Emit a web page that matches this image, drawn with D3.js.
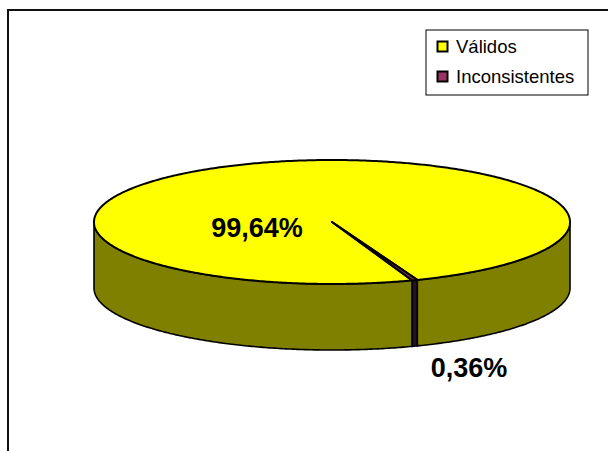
<!DOCTYPE html>
<html>
<head>
<meta charset="utf-8">
<script src="https://cdn.jsdelivr.net/npm/d3@7"></script>
<style>
  body { margin: 0; background: #fff; }
  text { font-family: "Liberation Sans", Arial, sans-serif; }
</style>
</head>
<body>
<script>
// data
var categories = ["Válidos", "Inconsistentes"];
var values = [99.64, 0.36];
var labels = ["99,64%", "0,36%"];
var topColors = ["#ffff00", "#993366"];
var sideColors = ["#808000", "#2a0f1e"];

var width = 608, height = 451;

var svg = d3.select("body").append("svg")
    .attr("width", width)
    .attr("height", height);

// chart frame (cut off at right / bottom like the source)
svg.append("rect")
    .attr("x", 8).attr("y", 10)
    .attr("width", 700).attr("height", 500)
    .attr("fill", "none")
    .attr("stroke", "#111")
    .attr("stroke-width", 2);

// 3d pie geometry
var cx = 332, cy = 222, rx = 238, ry = 62, depth = 66;

var startA = 160.3 * Math.PI / 180;
var pie = d3.pie().sort(null)
    .startAngle(startA)
    .endAngle(startA + 2 * Math.PI);
var arcs = pie(values);

// a measured clockwise from 12 o'clock
function rim(a, dy) {
  return [cx + rx * Math.sin(a), cy - ry * Math.cos(a) + (dy || 0)];
}
function rimPts(a0, a1, dy) {
  var n = Math.max(2, Math.ceil(Math.abs(a1 - a0) / 0.01));
  return d3.range(n + 1).map(function(i) { return rim(a0 + (a1 - a0) * i / n, dy); });
}

var line = d3.line();

// side walls (front half only)
var walls = [];
arcs.forEach(function(d, i) {
  for (var k = -1; k <= 2; k++) {
    var lo = Math.max(d.startAngle, Math.PI / 2 + 2 * Math.PI * k);
    var hi = Math.min(d.endAngle, 3 * Math.PI / 2 + 2 * Math.PI * k);
    if (hi > lo) walls.push({ i: i, lo: lo, hi: hi });
  }
});

svg.append("g").selectAll("path")
  .data(walls)
  .enter().append("path")
    .attr("d", function(w) {
      var pts = rimPts(w.lo, w.hi, 0).concat(rimPts(w.hi, w.lo, depth));
      return line(pts) + "Z";
    })
    .attr("fill", function(w) { return sideColors[w.i]; })
    .attr("stroke", "#000")
    .attr("stroke-width", 1.6)
    .attr("stroke-linejoin", "round");

// top faces
svg.append("g").selectAll("path")
  .data(arcs)
  .enter().append("path")
    .attr("d", function(d) {
      return line([[cx, cy]].concat(rimPts(d.startAngle, d.endAngle, 0))) + "Z";
    })
    .attr("fill", function(d, i) { return topColors[i]; })
    .attr("stroke", "#000")
    .attr("stroke-width", 2)
    .attr("stroke-linejoin", "round");

// data labels
var labelPos = [[257, 237], [469, 377]];
svg.append("g").selectAll("text")
  .data(labels)
  .enter().append("text")
    .attr("x", function(d, i) { return labelPos[i][0]; })
    .attr("y", function(d, i) { return labelPos[i][1]; })
    .attr("text-anchor", "middle")
    .attr("font-size", 27)
    .attr("font-weight", "bold")
    .attr("fill", "#000")
    .text(function(d) { return d; });

// legend
var legend = svg.append("g").attr("transform", "translate(426,30)");
legend.append("rect")
    .attr("width", 162).attr("height", 65)
    .attr("fill", "#fff")
    .attr("stroke", "#000")
    .attr("stroke-width", 1);

var item = legend.selectAll(".item")
  .data(categories)
  .enter().append("g")
    .attr("class", "item")
    .attr("transform", function(d, i) { return "translate(0," + (i * 30) + ")"; });

item.append("rect")
    .attr("x", 11.5).attr("y", 11.5)
    .attr("width", 10).attr("height", 10)
    .attr("fill", function(d, i) { return topColors[i]; })
    .attr("stroke", "#000")
    .attr("stroke-width", 2);

item.append("text")
    .attr("x", 30).attr("y", 23)
    .attr("font-size", 18.5)
    .attr("fill", "#000")
    .text(function(d) { return d; });
</script>
</body>
</html>
